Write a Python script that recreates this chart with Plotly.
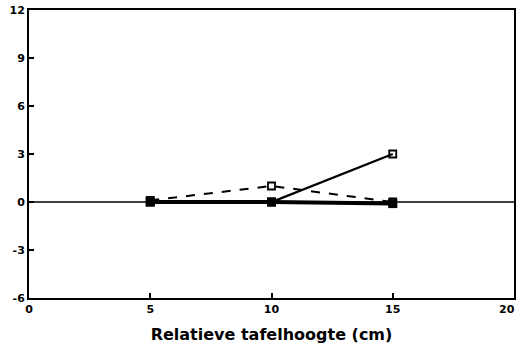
import plotly.graph_objects as go

x_vals = [5, 10, 15]
solid_open = [0, 0, 3]
dashed_open = [0.1, 1, 0]
thick_filled = [0, 0, -0.1]
x_ticks = [0, 5, 10, 15, 20]
x_tick_labels = ["0", "5", "10", "15", "20"]
y_ticks = [-6, -3, 0, 3, 6, 9, 12]

fig = go.Figure()
fig.add_trace(go.Scatter(x=[0, 20], y=[0, 0], mode="lines",
                         line=dict(color="black", width=1.5), showlegend=False, hoverinfo="skip"))
fig.add_trace(go.Scatter(x=x_vals, y=dashed_open, mode="lines+markers",
                         line=dict(color="black", width=2, dash="dash"),
                         marker=dict(symbol="square-open", size=7, color="black", line=dict(width=1.8)),
                         showlegend=False))
fig.add_trace(go.Scatter(x=x_vals, y=solid_open, mode="lines+markers",
                         line=dict(color="black", width=2.4),
                         marker=dict(symbol="square-open", size=7, color="black", line=dict(width=1.8)),
                         showlegend=False))
fig.add_trace(go.Scatter(x=x_vals, y=thick_filled, mode="lines+markers",
                         line=dict(color="black", width=4),
                         marker=dict(symbol="square", size=9, color="black"),
                         showlegend=False))

font = dict(family="DejaVu Sans", size=11, color="black", weight="bold")

# last x tick label drawn as an annotation, right-aligned so it stays inside the page
axis_labels = x_tick_labels[:-1] + [""]
fig.add_annotation(x=x_ticks[-1], y=0, xref="x", yref="paper", text=x_tick_labels[-1],
                   showarrow=False, xanchor="right", yanchor="top", xshift=3, yshift=-3,
                   font=font)

fig.update_layout(
    width=520, height=352,
    margin=dict(l=29, r=6, t=10, b=54),
    paper_bgcolor="white", plot_bgcolor="white",
    font=font,
    xaxis=dict(range=[0, 20], tickvals=x_ticks, ticktext=axis_labels,
               ticks="inside", ticklen=5, tickwidth=1.5, tickcolor="black",
               showline=True, linecolor="black", linewidth=1.5, mirror=True,
               showgrid=False, zeroline=False, tickfont=font, automargin=False,
               ticklabeloverflow="allow",
               title=dict(text="Relatieve tafelhoogte (cm)",
                          font=dict(family="DejaVu Sans", size=16, color="black", weight="bold"),
                          standoff=14)),
    yaxis=dict(range=[-6, 12], tickvals=y_ticks, ticktext=[str(v) for v in y_ticks],
               ticks="inside", ticklen=5, tickwidth=1.5, tickcolor="black",
               showline=True, linecolor="black", linewidth=2, mirror=True,
               showgrid=False, zeroline=False, tickfont=font, automargin=False,
               ticklabeloverflow="allow"),
)
fig.write_html("out.html", config={"displayModeBar": False},
               post_script="document.body.style.margin='0';")
